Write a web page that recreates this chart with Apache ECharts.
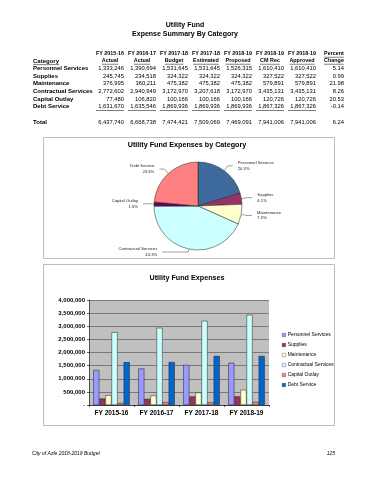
<!DOCTYPE html>
<html>
<head>
<meta charset="utf-8">
<script src="https://cdn.jsdelivr.net/npm/echarts@6/dist/echarts.min.js"></script>
<style>
html,body{margin:0;padding:0;background:#fff;}
#main{width:370px;height:480px;}
</style>
</head>
<body>
<div id="main"></div>
<script>
// ---------- DATA ----------
const categories = ['Personnel Services','Supplies','Maintenance','Contractual Services','Capital Outlay','Debt Service'];
const fyHeaders = ['FY 2015-16','FY 2016-17','FY 2017-18','FY 2017-18','FY 2018-19','FY 2018-19','FY 2018-19'];
const colTypes = ['Actual','Actual','Budget','Estimated','Proposed','CM Rec','Approved'];
const actual1516 = [1333246, 245745, 376995, 2772602, 77480, 1631670];
const actual1617 = [1390694, 234518, 360211, 2940949, 106820, 1635546];
const budget1718 = [1531645, 324322, 475382, 3172970, 100166, 1869936];
const estimated1718 = [1531645, 324322, 475382, 3207618, 100166, 1869936];
const proposed1819 = [1526315, 324322, 475382, 3172970, 100166, 1869936];
const cmRec1819 = [1610410, 327522, 579891, 3435131, 120726, 1867326];
const approved1819 = [1610410, 327522, 579891, 3435131, 120726, 1867326];
const totals = [6437740, 6668738, 7474421, 7509069, 7469091, 7941006, 7941006];
const pctChange = ['5.14','0.99','21.98','8.26','20.53','-0.14'];
const pctTotal = '6.24';
const barYears = ['FY 2015-16','FY 2016-17','FY 2017-18','FY 2018-19'];
const barSources = [actual1516, actual1617, estimated1718, approved1819];
const yTicks = [0, 500000, 1000000, 1500000, 2000000, 2500000, 3000000, 3500000, 4000000];
const pieColors = ['#3E6A9E','#993366','#FFFFCC','#CCFFFF','#660066','#FF8080'];
const barColors = ['#9999FF','#993366','#FFFFCC','#CCFFFF','#FF8080','#0066CC'];

// ---------- HELPERS ----------
const FF = '"Liberation Sans", Arial, sans-serif';
const fmt = v => v.toLocaleString('en-US');
const mctx = document.createElement('canvas').getContext('2d');
function tw(text, font){ mctx.font = font; return mctx.measureText(text).width; }

const G = [];
function txt(text, x, y, size, opts){
  opts = opts || {};
  const font = (opts.italic?'italic ':'') + (opts.bold?'bold ':'') + size + 'px ' + FF;
  const align = opts.align || 'left';
  G.push({type:'text', x:x, y:y, silent:true, style:{text:text, font:font, textAlign:align, textVerticalAlign:'middle', fill:opts.color||'#000'}});
  if (opts.underline){
    const w = tw(text, font);
    let x1 = align==='left'?x:(align==='right'?x-w:x-w/2);
    G.push({type:'line', silent:true, shape:{x1:x1, y1:y+size*0.6, x2:x1+w, y2:y+size*0.6}, style:{stroke:'#000', lineWidth:0.5}});
  }
}
function hline(x1,x2,y){ G.push({type:'line', silent:true, shape:{x1:x1,y1:y,x2:x2,y2:y}, style:{stroke:'#000', lineWidth:0.5}}); }
function box(x,y,w,h){ G.push({type:'rect', silent:true, shape:{x:x,y:y,width:w,height:h}, style:{fill:'none', stroke:'#bdbdbd', lineWidth:1}}); }

// ---------- TABLE ----------
txt('Utility Fund', 185, 25, 7, {bold:true, align:'center'});
txt('Expense Summary By Category', 185, 34, 7, {bold:true, align:'center'});
const colRight = [124, 156, 188, 220, 252, 284, 316];
const pctRight = 344;
const hy1 = 54, hy2 = 61, rowY0 = 68.5, rowStep = 7.6;
const columns = [actual1516, actual1617, budget1718, estimated1718, proposed1819, cmRec1819, approved1819];
txt('Category', 33, hy2, 6, {bold:true, underline:true});
fyHeaders.forEach((h,i)=>{
  txt(h, colRight[i]-14, hy1, 5.4, {bold:true, align:'center'});
  txt(colTypes[i], colRight[i]-14, hy2, 5.4, {bold:true, align:'center', underline:true});
});
txt('Percent', 334, hy1, 5.4, {bold:true, align:'center', underline:true});
txt('Change', 334, hy2, 5.4, {bold:true, align:'center', underline:true});
categories.forEach((c,r)=>{
  const y = rowY0 + r*rowStep;
  txt(c, 33, y, 6, {bold:true});
  columns.forEach((col,i)=> txt(fmt(col[r]), colRight[i], y, 5.8, {align:'right'}));
  txt(pctChange[r], pctRight, y, 5.8, {align:'right'});
});
const ulY = rowY0 + 5*rowStep + 4;
colRight.forEach(x => hline(x-28, x, ulY));
txt('Total', 33, 122, 6, {bold:true});
totals.forEach((t,i)=> txt(fmt(t), colRight[i], 122, 5.8, {align:'right'}));
txt(pctTotal, pctRight, 122, 5.8, {align:'right'});

// ---------- BOXES & TITLES ----------
box(43.5, 137.5, 291, 121);
box(43.5, 264.5, 291, 161);
txt('Utility Fund Expenses by Category', 187, 145, 7.2, {bold:true, align:'center'});
txt('Utility Fund Expenses', 187, 278, 7.2, {bold:true, align:'center'});

// ---------- FOOTER ----------
txt('City of Azle 2018-2019 Budget', 32, 454, 5, {italic:true});
txt('125', 335, 454, 5, {italic:true, align:'right'});

// ---------- CHART ----------
const chart = echarts.init(document.getElementById('main'), null, {renderer:'canvas'});
const option = {
  backgroundColor:'#fff',
  animation:false,
  textStyle:{fontFamily:FF},
  graphic: G,
  grid:{left:89, top:300, width:180, height:105, show:true, backgroundColor:'#C0C0C0', borderWidth:0, containLabel:false},
  legend:{
    orient:'vertical', left:277, top:327, itemWidth:3.5, itemHeight:3.5, itemGap:4, icon:'rect',
    itemStyle:{borderWidth:0.3, borderColor:'#222'},
    textStyle:{fontSize:5, color:'#000', fontFamily:FF, lineHeight:6, padding:[0,0,0,-3]},
    data: categories,
    selectedMode:false
  },
  xAxis:{
    type:'category', data:barYears,
    axisLine:{show:true, lineStyle:{color:'#000', width:0.6}},
    axisTick:{show:true, length:2, lineStyle:{color:'#000', width:0.6}},
    axisLabel:{fontSize:6.5, fontWeight:'bold', color:'#000', margin:5, fontFamily:FF}
  },
  yAxis:{
    type:'value', min:yTicks[0], max:yTicks[yTicks.length-1], interval:yTicks[1]-yTicks[0],
    axisLine:{show:true, lineStyle:{color:'#000', width:0.6}},
    axisTick:{show:true, length:2, lineStyle:{color:'#000', width:0.6}},
    splitLine:{show:true, lineStyle:{color:'#333', width:0.5}},
    axisLabel:{fontSize:6, fontWeight:'bold', color:'#000', margin:4, fontFamily:FF,
      formatter: v => v===0 ? '-' : fmt(v)}
  },
  series: categories.map((c,k)=>({
    name:c, type:'bar', barGap:'0%', barCategoryGap:'19%',
    itemStyle:{color:barColors[k], borderColor:'#222', borderWidth:0.5},
    data: barSources.map(src => src[k])
  })).concat([{
    name:'Pie', type:'pie', center:[198,206], radius:44, startAngle:90, clockwise:true,
    percentPrecision:1,
    avoidLabelOverlap:true,
    itemStyle:{borderColor:'#222', borderWidth:0.5},
    label:{show:true, formatter:'{b}\n{d}%', fontSize:4.2, lineHeight:5.5, color:'#222', fontFamily:FF, align:'center'},
    labelLine:{show:true, length:6, length2:5, lineStyle:{color:'#444', width:0.5}},
    emphasis:{disabled:true},
    data: categories.map((c,k)=>({
      name:c, value:approved1819[k], itemStyle:{color:pieColors[k]},
      labelLine: k===3 ? {length:3, length2:26} : undefined
    }))
  }])
};
chart.setOption(option);
</script>
</body>
</html>
